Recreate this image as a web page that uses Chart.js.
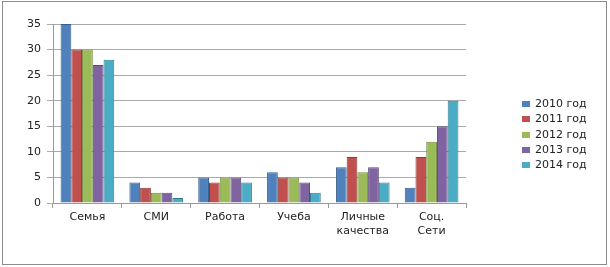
<!DOCTYPE html>
<html>
<head>
<meta charset="utf-8">
<script src="https://cdn.jsdelivr.net/npm/chart.js@4"></script>
<style>
  body { margin: 0; background: #fff; }
  #wrap { position: relative; width: 610px; height: 267px; }
  #leyenda { position: absolute; left: 522px; top: 96px; font: 11px 'DejaVu Sans'; color: #222; }
  #leyenda div { height: 15.25px; line-height: 15px; white-space: nowrap; }
  #leyenda span { display: inline-block; width: 8px; height: 6px; margin-right: 5px; vertical-align: 0px; }
</style>
</head>
<body>
<div id="wrap"><canvas id="miGrafico" width="610" height="267"></canvas><div id="leyenda"></div></div>
<script>
const categorias = ['Семья', 'СМИ', 'Работа', 'Учеба', ['Личные', 'качества'], ['Соц.', 'Сети']];
const anios = ['2010 год', '2011 год', '2012 год', '2013 год', '2014 год'];
const v2010 = [35, 4, 5, 6, 7, 3];
const v2011 = [30, 3, 4, 5, 9, 9];
const v2012 = [30, 2, 5, 5, 6, 12];
const v2013 = [27, 2, 5, 4, 7, 15];
const v2014 = [28, 1, 4, 2, 4, 20];
const series = [v2010, v2011, v2012, v2013, v2014];
const colores = ['#4F81BD', '#C0504D', '#9BBB59', '#8064A2', '#4BACC6'];
const bordes = ['#385D8A', '#8C3836', '#71893F', '#5C4776', '#357D91'];

const marco = {
    id: 'marco',
    afterDraw(chart) {
        const c = chart.ctx;
        c.save();
        c.strokeStyle = '#8c8c8c';
        c.lineWidth = 1;
        c.strokeRect(2.5, 1.5, 604, 263);
        c.restore();
    }
};

const ctx = document.getElementById('miGrafico').getContext('2d');
const miGrafico = new Chart(ctx, {
    type: 'bar',
    data: {
        labels: categorias,
        datasets: series.map((d, i) => ({
            label: anios[i],
            data: d,
            backgroundColor: colores[i],
            borderColor: bordes[i],
            borderWidth: 1,
            categoryPercentage: 0.78,
            barPercentage: 1
        }))
    },
    options: {
        responsive: false,
        animation: false,
        layout: { padding: { top: 24, right: 144, bottom: 0, left: 0 } },
        plugins: {
            tooltip: { enabled: false },
            legend: { display: false }
        },
        scales: {
            x: {
                afterFit: s => { s.height = 64; },
                grid: { drawOnChartArea: false, tickLength: 5, color: '#999' },
                border: { color: '#999' },
                ticks: { color: '#222', font: { family: 'DejaVu Sans', size: 11 }, padding: 3, maxRotation: 0 }
            },
            y: {
                min: 0,
                max: 35,
                afterFit: s => { s.width = 53; },
                grid: { color: '#aaa', tickLength: 6 },
                border: { color: '#999' },
                ticks: { stepSize: 5, color: '#222', font: { family: 'DejaVu Sans', size: 11 }, padding: 6 }
            }
        }
    },
    plugins: [marco]
});

// leyenda en HTML, construida desde los mismos arrays
const ley = document.getElementById('leyenda');
miGrafico.data.datasets.forEach(ds => {
    const fila = document.createElement('div');
    const cuadro = document.createElement('span');
    cuadro.style.background = ds.backgroundColor;
    fila.appendChild(cuadro);
    fila.appendChild(document.createTextNode(ds.label));
    ley.appendChild(fila);
});
</script>
</body>
</html>
